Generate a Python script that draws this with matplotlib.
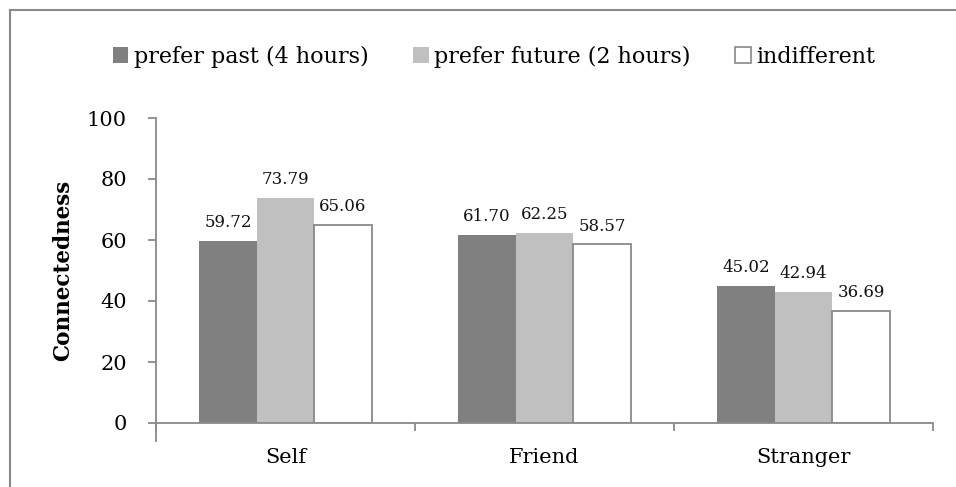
import matplotlib
matplotlib.use("Agg")
import matplotlib.pyplot as plt
from matplotlib.lines import Line2D
from matplotlib.patches import Patch
import numpy as np

categories = ["Self", "Friend", "Stranger"]
series_names = ["prefer past (4 hours)", "prefer future (2 hours)", "indifferent"]
prefer_past = [59.72, 61.70, 45.02]
prefer_future = [73.79, 62.25, 42.94]
indifferent = [65.06, 58.57, 36.69]
y_ticks = [0, 20, 40, 60, 80, 100]

plt.rcParams["font.family"] = ["DejaVu Serif"]

W, H = 956, 487
fig = plt.figure(figsize=(W / 100, H / 100), dpi=100)
ax = fig.add_axes([156 / W, 1 - 423 / H, (933 - 156) / W, (423 - 118) / H])

grey = "#898989"
face_colors = ["#808080", "#c0c0c0", "#ffffff"]
edge_colors = ["#808080", "#c0c0c0", grey]
values = [prefer_past, prefer_future, indifferent]

x = np.arange(len(categories))
bw = 0.222
offsets = [-bw, 0, bw]
for vals, off, fc, ec in zip(values, offsets, face_colors, edge_colors):
    bars = ax.bar(x + off, vals, width=bw, color=fc, edgecolor=ec,
                  linewidth=1.3 if fc == "#ffffff" else 0.0, zorder=2)
    for b, v in zip(bars, vals):
        ax.annotate(f"{v:.2f}", (b.get_x() + b.get_width() / 2, v),
                    xytext=(0, 7), textcoords="offset points",
                    ha="center", va="bottom", fontsize=12, color="#111111")

ax.set_xlim(-0.5, len(categories) - 0.5)
ax.set_ylim(0, 100)
ax.set_yticks(y_ticks)
ax.tick_params(axis="y", direction="out", length=6, width=1.3, color=grey,
               labelsize=15, pad=15)
ax.set_xticks(x)
ax.set_xticklabels(categories)
ax.tick_params(axis="x", length=0, labelsize=15, pad=18)
# category boundary ticks on x axis
ax.set_xticks(np.arange(-0.5, len(categories), 1.0), minor=True)
ax.tick_params(axis="x", which="minor", direction="out", length=6,
               width=1.3, color=grey)

for s in ["top", "right"]:
    ax.spines[s].set_visible(False)
for s in ["left", "bottom"]:
    ax.spines[s].set_color(grey)
    ax.spines[s].set_linewidth(1.3)
ax.spines["left"].set_bounds(-6, 100)
ax.set_ylabel("Connectedness", fontsize=15.5, fontweight="bold")
ax.yaxis.set_label_coords(-(156 - 74) / (933 - 156), 0.5)

handles = [Patch(facecolor=fc, edgecolor=ec, linewidth=1.2 if fc == "#ffffff" else 0)
           for fc, ec in zip(face_colors, edge_colors)]
fig.legend(handles, series_names, loc="center", ncol=3,
           bbox_to_anchor=(494 / W, 1 - 57 / H), frameon=False,
           fontsize=16, handlelength=0.7, handleheight=0.7,
           handletextpad=0.25, columnspacing=2.0)

# outer chart frame
fig.add_artist(Line2D([9.5 / W, 9.5 / W], [0, 1 - 10 / H],
                      transform=fig.transFigure, color=grey, lw=1.5))
fig.add_artist(Line2D([9.5 / W, 1], [1 - 10 / H, 1 - 10 / H],
                      transform=fig.transFigure, color=grey, lw=1.5))

fig.savefig("out.png", dpi=100)
